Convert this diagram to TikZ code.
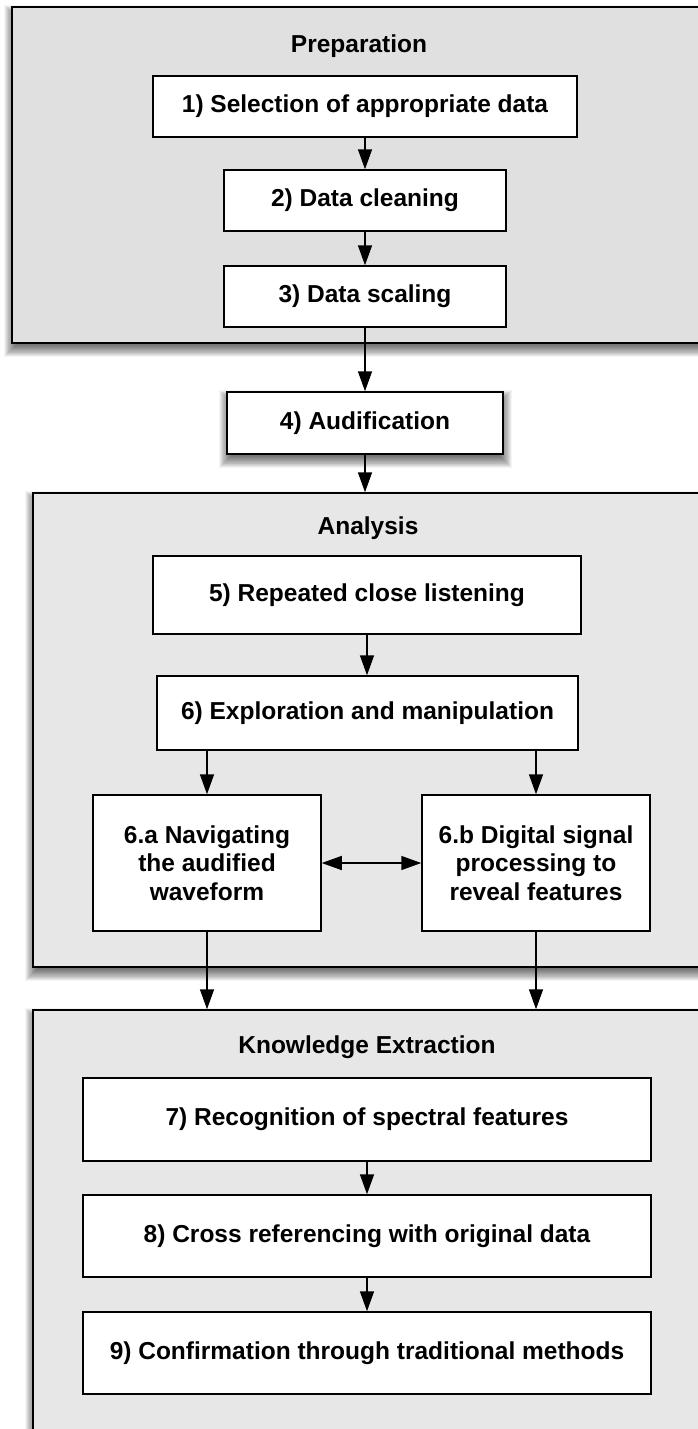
\documentclass[tikz,border=0pt]{standalone}
\usepackage{fontspec}
\setmainfont{Liberation Sans}
\usetikzlibrary{arrows.meta}
\pgfdeclarelayer{bg}
\pgfsetlayers{bg,main}
\definecolor{prepgray}{HTML}{E0E0E0}
\definecolor{panelgray}{HTML}{E7E7E7}
\newcommand{\softshadow}[1]{%
  \foreach \k in {0,...,19}{%
    \fill[black,opacity=0.045]
      ([shift={({-(7-0.7*\k)},{-(7-0.7*\k)+6})}]#1.north west) rectangle
      ([shift={({(7-0.7*\k)+1},{(7-0.7*\k)+6})}]#1.south east);
  }%
}
\begin{document}
\begin{tikzpicture}[x=1pt,y=-1pt,
  txt/.style={font=\fontsize{24.5}{28.5}\selectfont\bfseries},
  stepbox/.style={draw=black,line width=1.5pt,fill=white,inner sep=0pt,align=center,txt},
  panel/.style={draw=black,line width=1.5pt,inner sep=0pt},
  paneltitle/.style={txt,inner sep=0pt},
  arr/.style={line width=1.5pt,-{Triangle[length=20pt,width=14pt]}},
  darr/.style={line width=1.5pt,{Triangle[length=20pt,width=14pt]}-{Triangle[length=20pt,width=14pt]}},
]
\useasboundingbox (0,0) rectangle (698,1429);
\clip (0,0) rectangle (698,1429);

% panels
\node[panel,fill=prepgray,minimum width=700pt,minimum height=336pt] (prep) at (362,175) {};
\node[panel,fill=panelgray,minimum width=680pt,minimum height=474pt] (ana) at (373,730) {};
\node[panel,fill=panelgray,minimum width=680pt,minimum height=440pt] (know) at (373,1230) {};

\node[paneltitle] (tprep) at (359,46) {Preparation};
\node[paneltitle] (tana) at (368,528) {Analysis};
\node[paneltitle] (tknow) at (367,1047) {Knowledge Extraction};

% steps
\node[stepbox,minimum width=424pt,minimum height=61pt] (b1) at (365,106.5) {1) Selection of appropriate data};
\node[stepbox,minimum width=282pt,minimum height=61pt] (b2) at (365,200.5) {2) Data cleaning};
\node[stepbox,minimum width=282pt,minimum height=61pt] (b3) at (365,296.5) {3) Data scaling};
\node[stepbox,minimum width=276pt,minimum height=62pt] (b4) at (365,423) {4) Audification};
\node[stepbox,minimum width=428pt,minimum height=78pt] (b5) at (367,595) {5) Repeated close listening};
\node[stepbox,minimum width=421pt,minimum height=74pt] (b6) at (367.5,713) {6) Exploration and manipulation};
\node[stepbox,minimum width=228pt,minimum height=136pt] (b6a) at (207,863) {6.a Navigating\\the audified\\waveform};
\node[stepbox,minimum width=228pt,minimum height=136pt] (b6b) at (536,863) {6.b Digital signal\\processing to\\reveal features};
\node[stepbox,minimum width=568pt,minimum height=83pt] (b7) at (367,1119.5) {7) Recognition of spectral features};
\node[stepbox,minimum width=568pt,minimum height=82pt] (b8) at (367,1236) {8) Cross referencing with original data};
\node[stepbox,minimum width=568pt,minimum height=82pt] (b9) at (367,1353) {9) Confirmation through traditional methods};

% shadows
\begin{pgfonlayer}{bg}
  \softshadow{prep}
  \softshadow{b4}
  \softshadow{ana}
  \softshadow{know}
\end{pgfonlayer}

% connectors
\draw[arr] (b1) -- (b2);
\draw[arr] (b2) -- (b3);
\draw[arr] (b3) -- (b4);
\draw[arr] (b4.south) -- (b4.south |- ana.north);
\draw[arr] (b5.south) -- (b5.south |- b6.north);
\draw[arr] (b6.south -| b6a.north) -- (b6a.north);
\draw[arr] (b6.south -| b6b.north) -- (b6b.north);
\draw[darr] (b6a) -- (b6b);
\draw[arr] (b6a.south) -- (b6a.south |- know.north);
\draw[arr] (b6b.south) -- (b6b.south |- know.north);
\draw[arr] (b7) -- (b8);
\draw[arr] (b8) -- (b9);
\end{tikzpicture}
\end{document}
